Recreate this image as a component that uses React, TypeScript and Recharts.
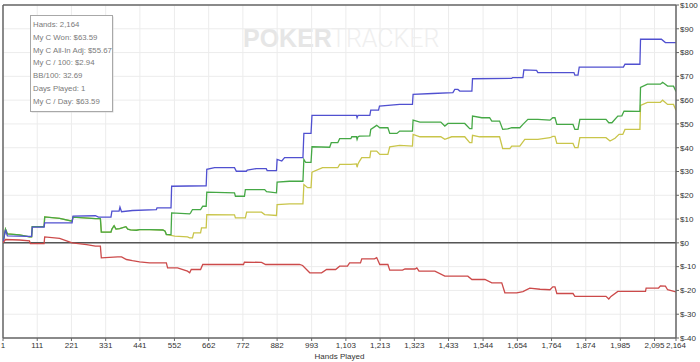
import React from 'react';
import { LineChart, Line, XAxis, YAxis, CartesianGrid, ReferenceLine } from 'recharts';

const xTicks = [1, 111, 221, 331, 441, 552, 662, 772, 882, 993, 1103, 1213, 1323, 1433, 1544, 1654, 1764, 1874, 1985, 2095, 2164];
const yTicks = [-40, -30, -20, -10, 0, 10, 20, 30, 40, 50, 60, 70, 80, 90, 100];

const statLines = [
  'Hands: 2,164',
  'My C Won: $63.59',
  'My C All-In Adj: $55.67',
  'My C / 100: $2.94',
  'BB/100: 32.69',
  'Days Played: 1',
  'My C / Day: $63.59',
];

// Blue: showdown winnings
const blueHands = [1, 9, 15, 86, 93, 95, 133, 135, 223, 226, 298, 308, 348, 351, 374, 377, 382, 417, 494, 496, 541, 543, 654, 656, 681, 745, 751, 783, 786, 815, 847, 850, 880, 882, 897, 906, 965, 968, 991, 994, 1137, 1139, 1142, 1180, 1183, 1208, 1211, 1276, 1317, 1319, 1382, 1447, 1453, 1463, 1469, 1508, 1510, 1636, 1639, 1672, 1675, 1716, 1720, 1836, 1839, 1849, 1853, 1995, 2000, 2048, 2050, 2117, 2130, 2164];
const blueValues = [0, 5.5, 2.9, 2.7, 2.7, 6.6, 6.6, 8.4, 8.4, 11.2, 11.4, 10.8, 10.8, 13.3, 13.3, 15, 13.1, 13.6, 14.0, 14.7, 14.7, 23.8, 24.0, 30.9, 31.6, 31.6, 30.1, 30.1, 30.6, 31.2, 31.2, 30.4, 30.4, 35.1, 34.4, 35.8, 35.8, 46, 46, 53.6, 53.6, 52.6, 53.6, 53.6, 55.8, 55.8, 57.5, 58.2, 58.2, 62.4, 62.8, 63.2, 64.5, 64.5, 63.8, 63.8, 69, 69.2, 69.5, 69.5, 72.7, 72.5, 71.6, 71.6, 70.5, 70.5, 73.9, 73.9, 75.1, 75.1, 85.6, 85.6, 84.2, 84.2];

// Green: net won
const greenHands = [1, 9, 15, 54, 86, 93, 95, 133, 135, 183, 223, 226, 298, 314, 317, 348, 351, 358, 364, 376, 396, 402, 411, 430, 440, 472, 515, 522, 526, 541, 543, 601, 604, 610, 636, 643, 654, 656, 745, 748, 777, 780, 842, 848, 880, 882, 922, 965, 968, 974, 991, 994, 1051, 1056, 1077, 1083, 1119, 1122, 1137, 1139, 1142, 1147, 1180, 1183, 1202, 1212, 1238, 1244, 1267, 1276, 1317, 1319, 1341, 1408, 1421, 1431, 1485, 1501, 1508, 1510, 1540, 1565, 1572, 1597, 1607, 1623, 1636, 1662, 1672, 1688, 1720, 1759, 1768, 1775, 1781, 1833, 1839, 1849, 1855, 1939, 1948, 1958, 1977, 1990, 1997, 2048, 2050, 2072, 2114, 2121, 2137, 2156, 2164];
const greenValues = [0, 5.8, 3.8, 3.4, 2.5, 2.5, 6.8, 6.8, 10.9, 10.3, 9.1, 10.8, 10.2, 10.2, 4.5, 4.5, 5.8, 7.2, 5.8, 6.0, 6.8, 5.8, 5.5, 5.3, 5.6, 5.6, 5.4, 4.9, 3.5, 3.5, 12.6, 12.2, 12.6, 14.0, 14.0, 15.4, 15.4, 21.3, 21.0, 19.6, 19.6, 22.4, 22.4, 21.5, 21.05, 25.5, 25.9, 25.9, 35.1, 33.8, 33.8, 40.4, 40.2, 42.1, 42.1, 43.8, 43.8, 44.6, 44.6, 43.5, 44.6, 44.9, 45, 47.7, 49.4, 48.4, 48.4, 46, 46, 47, 47, 51.6, 50.8, 50.8, 49.1, 50.2, 50.2, 48, 48, 53.3, 52.6, 52.6, 51.2, 51.2, 47.7, 47.9, 48.4, 48.4, 49.8, 51.9, 51.9, 51.6, 52.6, 52.6, 49.8, 49.8, 47.7, 47.7, 51.9, 51.9, 50.5, 50.5, 53.3, 53.4, 55.4, 55.3, 65.3, 66.7, 66.7, 67.5, 65.9, 65.9, 63.6];

// Yellow: all-in adjusted
const yellowHands = [1, 9, 15, 54, 86, 93, 95, 133, 135, 183, 223, 226, 298, 314, 317, 348, 351, 358, 364, 376, 396, 402, 411, 430, 440, 472, 515, 522, 526, 553, 594, 601, 610, 614, 636, 639, 654, 656, 745, 748, 780, 784, 832, 842, 880, 882, 922, 965, 968, 980, 991, 994, 1028, 1077, 1083, 1119, 1137, 1139, 1142, 1147, 1154, 1180, 1183, 1202, 1212, 1238, 1244, 1276, 1317, 1319, 1341, 1408, 1421, 1443, 1485, 1501, 1508, 1510, 1533, 1597, 1607, 1630, 1636, 1662, 1678, 1720, 1759, 1768, 1775, 1781, 1833, 1839, 1849, 1855, 1939, 1952, 1968, 1981, 1993, 2000, 2048, 2050, 2072, 2114, 2121, 2137, 2156, 2164];
const yellowValues = [0, 5.8, 3.8, 3.4, 2.5, 2.5, 6.8, 6.8, 10.9, 10.3, 9.1, 10.8, 10.2, 10.2, 4.5, 4.5, 5.8, 7.2, 5.8, 6.0, 6.8, 5.8, 5.5, 5.3, 5.6, 5.6, 5.4, 4.9, 3.5, 2.8, 2.5, 2.1, 2.1, 4.2, 4.2, 6.3, 6.3, 11.9, 11.8, 10.5, 10.5, 12.9, 12.9, 11.9, 11.5, 16.1, 16.4, 16.4, 24.5, 23.2, 23.2, 29.7, 31.6, 31.6, 33, 33, 33.2, 31.8, 33.2, 34.4, 35.8, 35.8, 38.6, 38.6, 37.2, 37.2, 40.4, 41, 40.7, 45.6, 44.6, 44.6, 43.5, 44.6, 44.6, 42.1, 42.1, 45.2, 44.6, 44.6, 39.6, 39.6, 40.7, 40.7, 43.5, 43.5, 44.2, 44.8, 44.8, 41.8, 41.8, 40, 40, 44.2, 44.2, 42.8, 44, 45.6, 45.6, 47.7, 47.7, 57.8, 59.1, 59.1, 60, 58.2, 58.2, 55.7];

// Red: non-showdown winnings
const redHands = [1, 9, 54, 86, 89, 133, 135, 183, 223, 270, 298, 314, 317, 370, 382, 398, 417, 440, 472, 526, 530, 562, 594, 601, 606, 636, 643, 774, 777, 832, 845, 954, 964, 987, 1025, 1041, 1070, 1083, 1108, 1115, 1150, 1154, 1195, 1202, 1212, 1238, 1244, 1285, 1293, 1325, 1331, 1338, 1389, 1421, 1495, 1508, 1550, 1572, 1604, 1614, 1652, 1672, 1694, 1727, 1759, 1768, 1775, 1781, 1833, 1839, 1939, 1948, 1955, 1977, 2066, 2068, 2108, 2114, 2130, 2137, 2164];
const redValues = [0, 1.4, 1.2, 0.8, -0.3, -0.3, 2.5, 1.9, 0, -0.7, -1.4, -1.4, -6.3, -5.9, -5.9, -7, -7.5, -8.0, -8.4, -8.4, -10.5, -10.5, -11.9, -12.6, -11.2, -11.2, -9.1, -9.1, -8.1, -8.2, -9.1, -9.1, -9.5, -12.6, -12.6, -11.2, -11.2, -9.8, -9.8, -8.4, -8.4, -6.7, -6.7, -6.2, -9.1, -9.1, -11.5, -11.5, -11, -11, -10.5, -11.9, -11.9, -14, -14, -15.4, -15.4, -16.8, -16.8, -21, -21, -20.5, -19, -19.5, -19.7, -18.5, -18.5, -21.3, -21.3, -22.5, -22.5, -23.6, -22.5, -20.4, -20.4, -19, -19, -18.1, -18.2, -19.7, -20.6];

const toPoints = (hands: number[], values: number[]) => hands.map((h, i) => ({ h, v: values[i] }));

const FONT = 'Liberation Sans, Arial, sans-serif';

export default function App() {
  return (
    <div style={{ position: 'absolute', left: 0, top: 0, width: 700, height: 362, background: '#fff' }}>
      <svg width={700} height={362} style={{ position: 'absolute', left: 0, top: 0 }}>
        <text x={243} y={46.7} fontFamily={FONT} fontWeight={700} fontSize={25} fill="#e6e6e6">POKER</text>
        <text x={331} y={46.7} fontFamily="Roboto, sans-serif" fontWeight={300} fontSize={25} fill="#efefef">TRACKER</text>
      </svg>
      <div style={{ position: 'absolute', left: 0, top: 0 }}>
        <LineChart width={700} height={362} margin={{ top: 5, right: 0, bottom: 0, left: 3 }}>
          <CartesianGrid stroke="#ececec" strokeWidth={1} />
          <XAxis
            dataKey="h"
            type="number"
            domain={[1, 2164]}
            ticks={xTicks}
            interval={0}
            allowDataOverflow
            height={24}
            tickSize={3}
            tickMargin={1}
            tickFormatter={(v: number) => v.toLocaleString('en-US')}
            tick={{ fontSize: 8, fill: '#333', fontFamily: FONT }}
            axisLine={{ stroke: '#666', strokeWidth: 1.5 }}
            tickLine={{ stroke: '#666' }}
            label={{ value: 'Hands Played', position: 'insideBottom', offset: 3, fill: '#333', fontSize: 8, fontFamily: FONT }}
          />
          <YAxis
            orientation="right"
            type="number"
            domain={[-40, 100]}
            ticks={yTicks}
            interval={0}
            allowDataOverflow
            width={24}
            tickSize={3}
            tickMargin={1}
            tickFormatter={(v: number) => `$${v}`}
            tick={{ fontSize: 8, fill: '#333', fontFamily: FONT }}
            axisLine={{ stroke: '#666', strokeWidth: 1.5 }}
            tickLine={{ stroke: '#666' }}
          />
          <ReferenceLine y={100} stroke="#666" strokeWidth={1.5} />
          <ReferenceLine x={1} stroke="#666" strokeWidth={1.5} />
          <ReferenceLine y={0} stroke="#555" strokeWidth={1.5} />
          <Line data={toPoints(yellowHands, yellowValues)} dataKey="v" type="linear" stroke="#c9c54a" strokeWidth={1.3} dot={false} isAnimationActive={false} />
          <Line data={toPoints(greenHands, greenValues)} dataKey="v" type="linear" stroke="#45a845" strokeWidth={1.3} dot={false} isAnimationActive={false} />
          <Line data={toPoints(blueHands, blueValues)} dataKey="v" type="linear" stroke="#5050d0" strokeWidth={1.3} dot={false} isAnimationActive={false} />
          <Line data={toPoints(redHands, redValues)} dataKey="v" type="linear" stroke="#cc4a4a" strokeWidth={1.3} dot={false} isAnimationActive={false} />
        </LineChart>
      </div>
      <svg width={700} height={362} style={{ position: 'absolute', left: 0, top: 0, pointerEvents: 'none' }}>
        <rect x={31.5} y={16.5} width={82} height={96} fill="#d8d8d8" />
        <rect x={30.5} y={15.5} width={82} height={96} fill="#fff" stroke="#a8a8a8" strokeWidth={1} />
        {statLines.map((t, i) => (
          <text key={t} x={33} y={27 + i * 12.8} fontFamily={FONT} fontSize={7.8} fill="#7a7a7a">{t}</text>
        ))}
      </svg>
    </div>
  );
}
